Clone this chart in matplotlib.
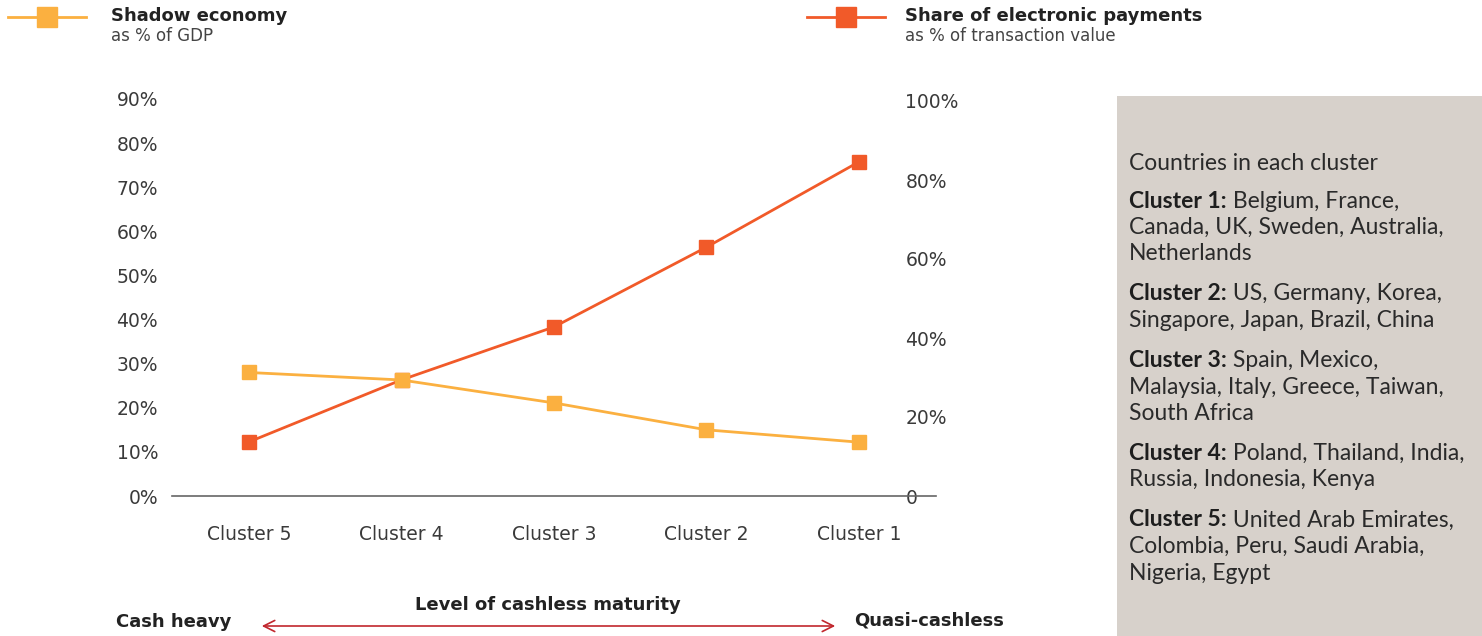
import matplotlib
matplotlib.use('Agg')
import matplotlib.pyplot as plt
from matplotlib.lines import Line2D
from matplotlib.patches import Rectangle, FancyArrowPatch

plt.rcParams['font.family'] = ['DejaVu Sans']

# data
clusters = ['Cluster 5', 'Cluster 4', 'Cluster 3', 'Cluster 2', 'Cluster 1']
shadow_economy = [28, 26.3, 21.1, 15.0, 12.2]        # % of GDP
electronic_share = [13.7, 29.4, 42.8, 63.0, 84.6]    # % of transaction value
left_ticks = [0, 10, 20, 30, 40, 50, 60, 70, 80, 90]
right_ticks = [0, 20, 40, 60, 80, 100]
right_labels = ['0', '20%', '40%', '60%', '80%', '100%']

cluster_notes = [
    ('Cluster 1:', [' Belgium, France,', 'Canada, UK, Sweden, Australia,', 'Netherlands']),
    ('Cluster 2:', [' US, Germany, Korea,', 'Singapore, Japan, Brazil, China']),
    ('Cluster 3:', [' Spain, Mexico,', 'Malaysia, Italy, Greece, Taiwan,', 'South Africa']),
    ('Cluster 4:', [' Poland, Thailand, India,', 'Russia, Indonesia, Kenya']),
    ('Cluster 5:', [' United Arab Emirates,', 'Colombia, Peru, Saudi Arabia,', 'Nigeria, Egypt']),
]

YELLOW = '#fbb040'
ORANGE = '#f15a29'
TXT = '#3a3a3a'
PANEL_FONT = ['Lato', 'DejaVu Sans']

W, H = 1482, 636
fig = plt.figure(figsize=(W / 100, H / 100), dpi=100)

def fx(px):
    return px / W

def fy(py):
    return 1 - py / H

ax = fig.add_axes([fx(172), fy(496), fx(936) - fx(172), fy(99) - fy(496)])
ax2 = ax.twinx()

x = list(range(len(clusters)))
ax2.plot(x, electronic_share, color=ORANGE, lw=2, marker='s', ms=10, zorder=2)
ax.plot(x, shadow_economy, color=YELLOW, lw=2, marker='s', ms=10, zorder=3)
ax.set_zorder(ax2.get_zorder() + 1)
ax.patch.set_visible(False)

ax.set_xlim(-0.505, 4.505)
ax.set_ylim(0, 90)
ax2.set_ylim(0, 100 * 397 / 395)

ax.set_xticks(x)
ax.set_xticklabels(clusters)
ax.set_yticks(left_ticks)
ax.set_yticklabels([f'{t}%' for t in left_ticks])
ax2.set_yticks(right_ticks)
ax2.set_yticklabels(right_labels)

for a in (ax, ax2):
    for s in a.spines.values():
        s.set_visible(False)
    a.tick_params(length=0, labelsize=13.5, colors=TXT)
ax.spines['bottom'].set_visible(True)
ax.spines['bottom'].set_color('#666666')
ax.spines['bottom'].set_linewidth(1.2)
ax.tick_params(axis='y', pad=10)
ax.tick_params(axis='x', pad=21)
ax2.tick_params(axis='y', pad=-22)

# legend header
for x0, tx0, col, title, sub in [(8, 111, YELLOW, 'Shadow economy', 'as % of GDP'),
                                 (807, 905, ORANGE, 'Share of electronic payments', 'as % of transaction value')]:
    fig.add_artist(Line2D([fx(x0), fx(x0 + 78)], [fy(17), fy(17)], color=col, lw=2))
    fig.add_artist(Line2D([fx(x0 + 39)], [fy(17)], color=col, marker='s', ms=15, lw=0))
    fig.text(fx(tx0), fy(16), title, fontsize=13, fontweight='bold', color='#222222', va='center')
    fig.text(fx(tx0), fy(36), sub, fontsize=12, color='#444444', va='center')

# bottom maturity arrow
arrow = FancyArrowPatch((fx(259), fy(626)), (fx(838), fy(626)), transform=fig.transFigure,
                        arrowstyle='<->,head_length=8,head_width=4', color='#c1272d', lw=1.2)
fig.add_artist(arrow)
fig.text(fx(548), fy(605), 'Level of cashless maturity', fontsize=13, fontweight='bold',
         color='#222222', ha='center', va='center')
fig.text(fx(116), fy(622), 'Cash heavy', fontsize=13, fontweight='bold', color='#222222', va='center')
fig.text(fx(854), fy(621), 'Quasi-cashless', fontsize=13, fontweight='bold', color='#222222', va='center')

# side panel with cluster membership
fig.add_artist(Rectangle((fx(1117), 0), 1 - fx(1117), fy(96), transform=fig.transFigure,
                         facecolor='#d7d1cb', edgecolor='none', zorder=0))
tx = fx(1129)
fs = 16.5
fig.text(tx, fy(163), 'Countries in each cluster', fontsize=fs, color='#2a2a2a', va='center',
         family=PANEL_FONT)
fig.canvas.draw()
renderer = fig.canvas.get_renderer()
y = 201
for head, lines in cluster_notes:
    t = fig.text(tx, fy(y), head, fontsize=fs, fontweight='bold', color='#1e1e1e', va='center',
                 family=PANEL_FONT)
    bb = t.get_window_extent(renderer)
    fig.text(bb.x1 / W, fy(y), lines[0], fontsize=fs, color='#2a2a2a', va='center', family=PANEL_FONT)
    for ln in lines[1:]:
        y += 26.5
        fig.text(tx, fy(y), ln, fontsize=fs, color='#2a2a2a', va='center', family=PANEL_FONT)
    y += 40

fig.savefig('out.png', dpi=100)
